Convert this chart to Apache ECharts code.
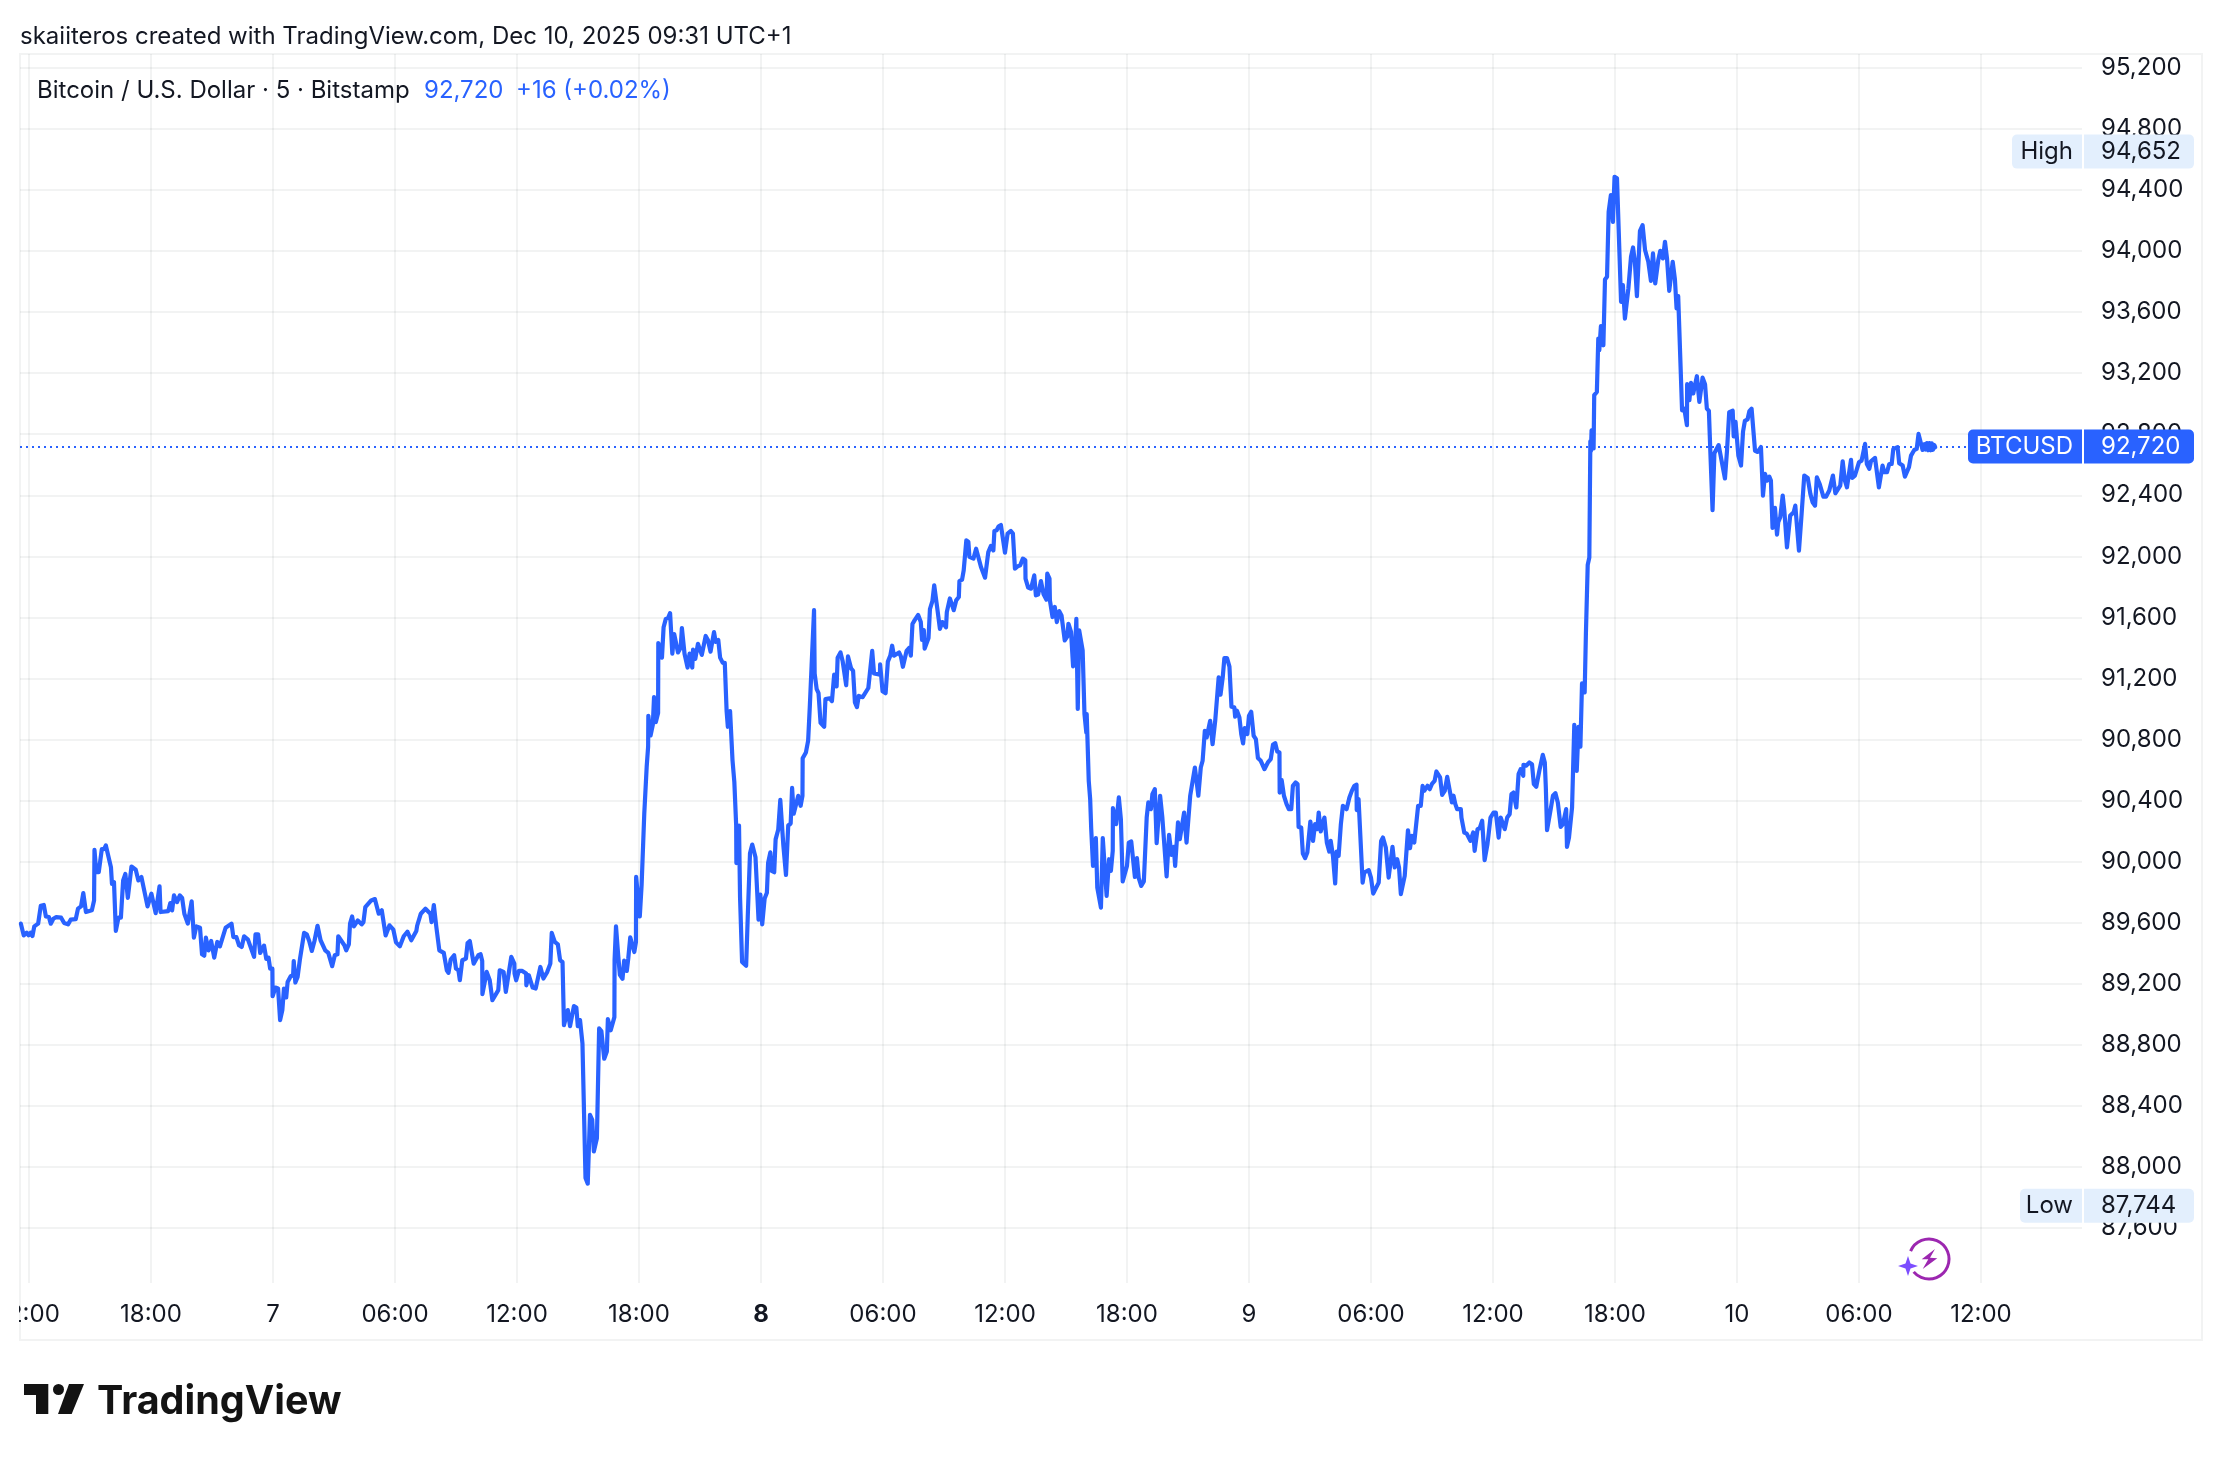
<!DOCTYPE html>
<html>
<head>
<meta charset="utf-8">
<style>html,body{margin:0;padding:0;background:#fff}#c{width:2222px;height:1460px}</style>
<script src="https://cdn.jsdelivr.net/npm/echarts@6/dist/echarts.min.js"></script>
</head>
<body>
<div id="c"></div>
<script>
// hours since Dec 6 12:00, close price
const day6 = [[-0.40,89593],[-0.34,89588],[-0.26,89516],[-0.11,89534],[-0.02,89516],[0.08,89534],[0.17,89512],[0.26,89575],[0.45,89593],[0.58,89710],[0.73,89715],[0.83,89640],[0.98,89636],[1.07,89593],[1.20,89625],[1.34,89636],[1.58,89632],[1.73,89597],[1.92,89588],[2.05,89619],[2.30,89623],[2.41,89691],[2.56,89706],[2.67,89793],[2.80,89669],[3.09,89680],[3.20,89745],[3.22,90076],[3.31,89930],[3.43,89930],[3.58,90081],[3.69,90081],[3.78,90105],[4.03,89963],[4.08,89854],[4.18,89865],[4.27,89545],[4.40,89632],[4.52,89632],[4.63,89876],[4.74,89919],[4.86,89762],[5.04,89967],[5.25,89946],[5.38,89876],[5.53,89898],[5.83,89706],[6.02,89789],[6.23,89662],[6.42,89837],[6.47,89669],[6.85,89675],[6.95,89728],[7.04,89680],[7.13,89778],[7.28,89734],[7.42,89778],[7.53,89762],[7.64,89658],[7.81,89593],[8.00,89739],[8.11,89501],[8.23,89575],[8.41,89566],[8.51,89392],[8.62,89383],[8.70,89501],[8.83,89418],[8.96,89479],[9.11,89370],[9.26,89473],[9.39,89444],[9.67,89566],[9.96,89593],[10.05,89505],[10.20,89505],[10.33,89451],[10.46,89440],[10.58,89510],[10.77,89488],[11.07,89375],[11.14,89523],[11.27,89523],[11.37,89401],[11.56,89449],[11.67,89362],[11.78,89370],[11.86,89298],[11.97,89298]];
const day7 = [[11.98,89117],[12.12,89174],[12.25,89168],[12.35,88961],[12.46,89026],[12.54,89168],[12.65,89109],[12.72,89211],[12.87,89248],[12.99,89255],[13.02,89348],[13.10,89207],[13.21,89244],[13.33,89364],[13.53,89532],[13.66,89523],[13.78,89479],[13.91,89414],[14.04,89479],[14.19,89579],[14.34,89484],[14.57,89418],[14.72,89401],[14.91,89314],[15.04,89386],[15.17,89392],[15.21,89510],[15.51,89451],[15.60,89418],[15.73,89457],[15.79,89593],[15.89,89640],[15.98,89575],[16.17,89614],[16.36,89588],[16.45,89603],[16.54,89701],[16.83,89745],[17.01,89754],[17.20,89658],[17.35,89680],[17.54,89516],[17.73,89582],[17.92,89553],[18.05,89470],[18.24,89444],[18.43,89510],[18.61,89540],[18.80,89484],[19.05,89545],[19.09,89579],[19.27,89658],[19.50,89691],[19.74,89658],[19.80,89603],[19.91,89715],[20.03,89575],[20.12,89571],[20.18,89418],[20.40,89401],[20.55,89287],[20.63,89270],[20.74,89357],[20.91,89386],[21.00,89298],[21.12,89287],[21.19,89222],[21.31,89353],[21.49,89364],[21.57,89466],[21.68,89479],[21.87,89331],[22.10,89386],[22.21,89392],[22.29,89348],[22.30,89131],[22.51,89277],[22.66,89222],[22.79,89091],[23.08,89157],[23.15,89287],[23.34,89277],[23.45,89146],[23.72,89375],[23.87,89331],[23.88,89266],[23.96,89222],[24.09,89283],[24.26,89283],[24.45,89266],[24.46,89189],[24.58,89255],[24.77,89174],[24.92,89168],[25.15,89309],[25.30,89233],[25.49,89277],[25.64,89331],[25.71,89532],[25.86,89473],[26.01,89457],[26.12,89353],[26.24,89342],[26.31,88928],[26.50,89026],[26.61,88921],[26.80,89052],[26.92,89043],[26.99,88921],[27.10,88961],[27.22,88808],[27.37,87926],[27.48,87889],[27.59,88340],[27.70,88307],[27.78,88100],[27.93,88187],[28.04,88906],[28.15,88889],[28.29,88708],[28.42,88755],[28.47,88967],[28.61,88894],[28.79,88980],[28.80,89355],[28.87,89575],[28.98,89381],[29.06,89257],[29.19,89231],[29.27,89350],[29.40,89283],[29.47,89361],[29.57,89503],[29.66,89490],[29.77,89407],[29.85,89472],[29.86,89899],[30.04,89640],[30.13,89847],[30.26,90313],[30.38,90624],[30.45,90753],[30.46,90955],[30.57,90826],[30.68,90896],[30.74,91077],[30.83,90914],[30.94,90973],[30.95,91432],[31.13,91336],[31.21,91535],[31.32,91590],[31.43,91595],[31.53,91628],[31.64,91362],[31.73,91491],[31.92,91370],[32.05,91401],[32.11,91530],[32.24,91362],[32.39,91271],[32.49,91362],[32.62,91271],[32.66,91388],[32.77,91328],[32.90,91427],[33.09,91354],[33.28,91478],[33.39,91452],[33.52,91375],[33.69,91504],[33.77,91439],[33.90,91452],[33.99,91336],[34.12,91302],[34.22,91302],[34.31,90986],[34.37,90883],[34.48,90986],[34.60,90663],[34.69,90520],[34.78,90236],[34.79,89990],[34.92,90236],[34.97,89770],[35.07,89342],[35.16,89335],[35.27,89317],[35.35,89640],[35.46,90054],[35.57,90111],[35.73,90028],[35.88,89619],[35.97,89783]];
const day8 = [[36.06,89588],[36.18,89757],[36.29,89795],[36.35,89990],[36.46,90060],[36.53,89938],[36.65,89930],[36.72,90145],[36.85,90210],[36.95,90404],[37.10,90106],[37.23,89912],[37.34,90236],[37.46,90249],[37.53,90482],[37.61,90313],[37.68,90318],[37.83,90430],[37.95,90365],[38.04,90430],[38.05,90676],[38.21,90715],[38.32,90792],[38.40,91012],[38.49,91284],[38.61,91647],[38.64,91232],[38.74,91129],[38.83,91103],[38.93,90909],[39.11,90883],[39.17,91064],[39.38,91069],[39.49,91051],[39.60,91225],[39.72,91147],[39.77,91336],[39.91,91370],[40.02,91310],[40.19,91155],[40.28,91344],[40.43,91266],[40.53,91250],[40.62,91043],[40.72,91012],[40.81,91085],[41.00,91077],[41.28,91137],[41.47,91380],[41.56,91232],[41.85,91225],[41.86,91292],[41.98,91116],[42.13,91103],[42.24,91310],[42.36,91349],[42.45,91414],[42.54,91349],[42.79,91370],[42.88,91344],[42.98,91276],[43.16,91380],[43.30,91401],[43.37,91349],[43.45,91556],[43.56,91582],[43.73,91616],[43.86,91569],[43.92,91452],[44.01,91517],[44.05,91395],[44.24,91465],[44.31,91654],[44.43,91706],[44.52,91810],[44.67,91660],[44.80,91525],[44.92,91569],[45.10,91535],[45.14,91634],[45.29,91724],[45.48,91647],[45.60,91711],[45.73,91733],[45.76,91838],[45.89,91847],[45.97,91908],[46.10,92105],[46.20,92094],[46.25,91996],[46.45,91985],[46.58,92050],[46.66,92050],[46.82,91930],[46.90,91919],[47.02,91860],[47.18,92028],[47.31,92068],[47.43,92039],[47.48,92166],[47.59,92171],[47.69,92197],[47.80,92205],[48.00,92024],[48.13,92149],[48.29,92166],[48.39,92149],[48.49,91919],[48.62,91934],[48.75,91941],[48.88,91985],[49.00,91974],[49.01,91854],[49.14,91795],[49.28,91788],[49.44,91875],[49.52,91744],[49.63,91749],[49.77,91838],[49.90,91751],[50.04,91716],[50.08,91886],[50.19,91854],[50.21,91711],[50.34,91602],[50.45,91668],[50.55,91569],[50.67,91641],[50.78,91613],[50.94,91449],[51.07,91475],[51.12,91558],[51.25,91504],[51.35,91279],[51.42,91307],[51.51,91591],[51.58,91000],[51.65,91515],[51.82,91384],[51.91,90966],[52.00,90846],[52.02,90966],[52.12,90529],[52.19,90409],[52.24,90218],[52.33,89971],[52.47,90153],[52.54,89829],[52.72,89698],[52.81,90153],[53.00,89775],[53.12,90015],[53.21,89939],[53.30,90070],[53.31,90350],[53.47,90245],[53.60,90420],[53.70,90278],[53.79,89869],[54.00,89971],[54.09,90124],[54.21,90131],[54.39,89899],[54.49,90022],[54.58,89891],[54.70,89840],[54.83,89869],[54.97,90288],[55.05,90387],[55.18,90343],[55.25,90441],[55.37,90474],[55.46,90120],[55.63,90431],[55.74,90288],[55.95,89902],[56.07,90175],[56.19,90044],[56.30,90096],[56.37,89971],[56.51,90256],[56.60,90146],[56.81,90321],[56.93,90124],[57.11,90431],[57.34,90616],[57.51,90431],[57.63,90616],[57.72,90660],[57.83,90857],[57.92,90813],[58.09,90922],[58.21,90769],[58.34,90922],[58.51,91207],[58.60,91093],[58.71,91207],[58.79,91333],[58.92,91333],[59.04,91277],[59.14,91014],[59.28,91010],[59.32,90949],[59.41,90988],[59.53,90944],[59.62,90835],[59.71,90774],[59.79,90874],[59.92,90835]];
const day9 = [[60.00,90955],[60.11,90981],[60.23,90824],[60.34,90802],[60.44,90678],[60.58,90660],[60.76,90605],[60.93,90649],[61.07,90671],[61.18,90765],[61.29,90776],[61.39,90721],[61.50,90715],[61.51,90452],[61.61,90533],[61.72,90431],[61.85,90376],[61.96,90343],[62.08,90343],[62.16,90496],[62.29,90518],[62.39,90507],[62.44,90227],[62.57,90222],[62.65,90052],[62.76,90022],[62.87,90059],[62.95,90063],[63.02,90262],[63.15,90135],[63.25,90245],[63.36,90212],[63.43,90321],[63.53,90197],[63.71,90288],[63.83,90124],[63.95,90065],[64.02,90135],[64.13,90037],[64.24,89856],[64.31,90065],[64.41,90037],[64.52,90245],[64.62,90365],[64.80,90343],[64.94,90420],[65.06,90463],[65.18,90496],[65.29,90503],[65.30,90337],[65.39,90409],[65.59,89862],[65.67,89928],[65.89,89943],[66.00,89895],[66.11,89790],[66.20,89790],[66.38,89862],[66.50,90135],[66.59,90157],[66.73,90092],[66.87,89895],[67.06,90096],[67.17,89961],[67.29,90015],[67.38,89961],[67.47,89786],[67.66,89906],[67.82,90205],[67.92,90087],[68.01,90168],[68.13,90124],[68.32,90365],[68.45,90365],[68.54,90496],[68.62,90463],[68.78,90496],[68.89,90474],[69.01,90511],[69.13,90529],[69.22,90590],[69.40,90551],[69.50,90437],[69.63,90463],[69.75,90555],[69.84,90568],[69.98,90387],[70.06,90431],[70.15,90376],[70.24,90343],[70.42,90343],[70.45,90288],[70.59,90190],[70.71,90183],[70.89,90135],[71.03,90190],[71.10,90070],[71.24,90212],[71.35,90218],[71.47,90267],[71.59,90009],[71.73,90114],[71.78,90103],[71.88,90288],[72.03,90321],[72.14,90321],[72.28,90157],[72.38,90288],[72.58,90212],[72.70,90288],[72.82,90310],[72.91,90441],[73.01,90452],[73.15,90354],[73.26,90573],[73.36,90605],[73.49,90562],[73.50,90634],[73.63,90628],[73.79,90649],[73.92,90638],[74.01,90507],[74.13,90490],[74.28,90594],[74.45,90699],[74.55,90649],[74.60,90485],[74.66,90205],[74.84,90343],[74.95,90431],[75.07,90448],[75.19,90387],[75.33,90227],[75.44,90245],[75.60,90343],[75.64,90096],[75.74,90157],[75.89,90354],[76.00,90896],[76.12,90594],[76.21,90883],[76.30,90752],[76.38,91167],[76.51,91108],[76.57,91484],[76.66,91944],[76.74,91992],[76.79,92754],[76.82,92691],[76.85,92826],[76.95,92707],[76.98,93056],[77.11,93077],[77.18,93427],[77.23,93351],[77.31,93508],[77.43,93383],[77.51,93814],[77.61,93832],[77.69,94258],[77.80,94367],[77.90,94192],[77.98,94487],[78.10,94477],[78.30,93668],[78.39,93777],[78.49,93558],[78.66,93755],[78.79,93963],[78.89,94024],[78.98,93930],[79.08,93705],[79.23,94133],[79.36,94170],[79.48,94007],[79.64,93930],[79.77,93805],[79.87,93985],[79.98,93788],[80.13,93941],[80.23,94002],[80.36,93952],[80.46,94061],[80.56,93952],[80.67,93740],[80.84,93930],[80.95,93814],[81.03,93624],[81.11,93705],[81.18,93700],[81.30,92957],[81.41,92968],[81.54,92859],[81.55,93128],[81.66,93023],[81.74,93136],[81.85,93067],[82.03,93180],[82.15,93012],[82.23,93005],[82.31,93171],[82.43,93128],[82.52,92968],[82.62,92953],[82.69,92691],[82.80,92303],[82.89,92675],[83.10,92729],[83.41,92510],[83.51,92691],[83.62,92945],[83.79,92954],[83.84,92786],[83.93,92881]];
const day10 = [[84.07,92659],[84.20,92595],[84.30,92818],[84.39,92888],[84.52,92897],[84.61,92951],[84.72,92967],[84.89,92691],[85.02,92684],[85.18,92716],[85.28,92398],[85.38,92540],[85.48,92496],[85.59,92522],[85.67,92496],[85.75,92186],[85.87,92317],[85.97,92142],[86.03,92223],[86.13,92256],[86.25,92398],[86.33,92299],[86.46,92059],[86.62,92267],[86.79,92288],[86.87,92332],[86.95,92332],[87.05,92037],[87.18,92278],[87.31,92529],[87.48,92514],[87.61,92409],[87.72,92354],[87.84,92332],[87.93,92518],[88.07,92474],[88.13,92485],[88.25,92391],[88.38,92391],[88.54,92431],[88.72,92529],[88.84,92413],[89.08,92463],[89.20,92623],[89.31,92496],[89.41,92452],[89.49,92452],[89.61,92632],[89.67,92514],[89.80,92529],[90.00,92616],[90.13,92627],[90.30,92737],[90.39,92605],[90.51,92573],[90.59,92623],[90.79,92645],[90.98,92452],[91.16,92595],[91.25,92551],[91.38,92551],[91.49,92605],[91.61,92605],[91.69,92704],[91.90,92715],[91.98,92610],[92.15,92595],[92.26,92522],[92.46,92584],[92.56,92660],[92.72,92697],[92.84,92704],[92.93,92802],[93.13,92697],[93.22,92735],[93.28,92700],[93.34,92742],[93.40,92695],[93.46,92742],[93.52,92695],[93.58,92740],[93.64,92698],[93.70,92730],[93.75,92715]];
const timeTicks = [0,6,12,18,24,30,36,42,48,54,60,66,72,78,84,90,96];
const timeLabels = ['12:00','18:00','7','06:00','12:00','18:00','8','06:00','12:00','18:00','9','06:00','12:00','18:00','10','06:00','12:00'];
const boldLabels = ['8'];
const priceTicks = [87600,88000,88400,88800,89200,89600,90000,90400,90800,91200,91600,92000,92400,92800,93200,93600,94000,94400,94800,95200];
const lastPrice = 92720, highPrice = 94652, lowPrice = 87744;

const FONT = 'Inter';
const INK = '#131722';
const BLUE = '#2962ff';
const GRIDC = 'rgba(42,46,57,0.06)';
const FS = 24;
const fmt = v => String(v).replace(/\B(?=(\d{3})+$)/g, ',');

const chart = echarts.init(document.getElementById('c'), null, {renderer:'canvas', width:2222, height:1460});

const option = {
  animation:false,
  backgroundColor:'#ffffff',
  grid:{left:20, top:54, width:2062, height:1229, containLabel:false, outerBoundsMode:'none'},
  xAxis:{
    type:'value', min:-0.4426, max:100.97,
    axisLine:{show:false},
    axisTick:{show:false, customValues:timeTicks},
    splitLine:{show:true, lineStyle:{color:GRIDC, width:2}},
    axisLabel:{
      customValues:timeTicks, margin:20, hideOverlap:false, showMinLabel:true, showMaxLabel:true,
      fontFamily:FONT, fontSize:FS, color:INK,
      formatter:v=>{const t=timeLabels[timeTicks.indexOf(v)]; return boldLabels.includes(t)?`{b|${t}}`:t;},
      rich:{b:{fontFamily:FONT, fontSize:FS, fontWeight:700, color:INK}}
    }
  },
  yAxis:{
    type:'value', position:'right', min:87238, max:95291.7, scale:true,
    axisLine:{show:false},
    axisTick:{show:false, customValues:priceTicks},
    splitLine:{show:true, lineStyle:{color:GRIDC, width:2}},
    axisLabel:{customValues:priceTicks, margin:19, fontFamily:FONT, fontSize:FS, color:INK, formatter:v=>fmt(v)}
  },
  series:[{
    type:'line', showSymbol:false, smooth:false, sampling:'none', z:5,
    data:[...day6,...day7,...day8,...day9,...day10],
    lineStyle:{color:BLUE, width:4.2, join:'round', cap:'round'},
    markLine:{silent:true, symbol:'none', animation:false, label:{show:false},
      lineStyle:{color:BLUE, type:[2,4], width:2},
      data:[{yAxis:lastPrice}]}
  }]
};
chart.setOption(option);

const yOf = v => chart.convertToPixel({yAxisIndex:0}, v);
function tag(value, name, bg, fg, leftX){
  const y = yOf(value), h=34, top=y-h/2;
  return [
    {type:'rect', z:100, shape:{x:leftX,y:top,width:2082-leftX,height:h,r:[5,0,0,5]}, style:{fill:bg}},
    {type:'rect', z:100, shape:{x:2084,y:top,width:110,height:h,r:[0,5,5,0]}, style:{fill:bg}},
    {type:'text', z:101, style:{x:2073,y:y,text:name,align:'right',verticalAlign:'middle',font:`${FS}px ${FONT}`,fill:fg}},
    {type:'text', z:101, style:{x:2101,y:y,text:fmt(value),align:'left',verticalAlign:'middle',font:`${FS}px ${FONT}`,fill:fg}}
  ];
}
const t = (x,y,text,fill,font)=>({type:'text',z:101,style:{x,y,text,fill,font:font||`${FS}px ${FONT}`,align:'left',verticalAlign:'middle'}});
const poly = (pts,fill)=>({type:'polygon',z:101,shape:{points:pts},style:{fill}});
chart.setOption({graphic:{elements:[
  {type:'rect',z:90,shape:{x:0,y:1290,width:19,height:46},style:{fill:'#fff'}},
  {type:'rect',z:91,shape:{x:20,y:54,width:2182,height:1286},style:{fill:'transparent',stroke:GRIDC,lineWidth:2}},
  t(20,37,'skaiiteros created with TradingView.com, Dec 10, 2025 09:31 UTC+1',INK),
  t(37,90.5,'Bitcoin / U.S. Dollar · 5 · Bitstamp',INK),
  t(424,90.5,'92,720',BLUE),
  t(516,90.5,'+16 (+0.02%)',BLUE),
  ...tag(highPrice,'High','#e3effd',INK,2012),
  ...tag(lowPrice,'Low','#e3effd',INK,2020),
  ...tag(lastPrice,'BTCUSD',BLUE,'#ffffff',1968),
  // watermark icon
  {type:'arc',z:101,shape:{cx:1929,cy:1259,r:20,startAngle:203*Math.PI/180,endAngle:140*Math.PI/180,clockwise:true},style:{stroke:'#9c27b0',lineWidth:3,fill:null}},
  poly([[1935,1249],[1921.7,1259.3],[1928.3,1259.3],[1922.7,1269],[1937.3,1258.3],[1930,1257.8]],'#9c27b0'),
  poly([[1908,1256],[1910.5,1263.5],[1918,1266],[1910.5,1268.5],[1908,1276],[1905.5,1268.5],[1898,1266],[1905.5,1263.5]],'#7c4dff'),
  // logo
  poly([[24,1384],[48.3,1384],[48.3,1414],[36,1414],[36,1395],[24,1395]],'#131313'),
  {type:'circle',z:101,shape:{cx:58.5,cy:1389.5,r:5.5},style:{fill:'#131313'}},
  poly([[69,1384],[84,1384],[71.7,1414],[58,1414]],'#131313'),
  t(97,1402,'TradingView','#131313',`700 39.5px ${FONT}`)
]}});
</script>
</body>
</html>
